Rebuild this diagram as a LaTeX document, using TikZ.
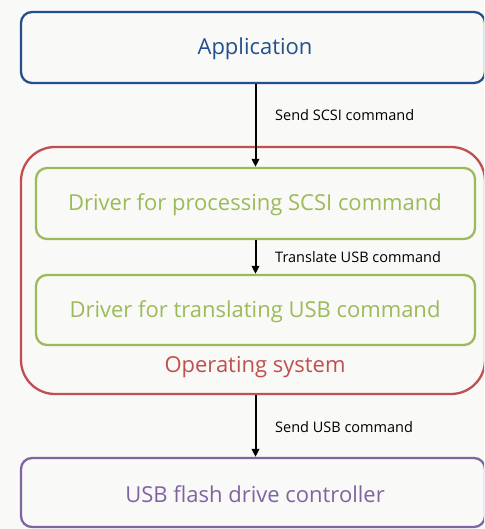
\documentclass[tikz,border=0pt]{standalone}
\usepackage{fontspec}
\setmainfont{Open Sans}
\usetikzlibrary{arrows.meta}
\definecolor{bgc}{HTML}{F9F9F8}
\definecolor{appblue}{HTML}{234F8C}
\definecolor{osred}{HTML}{C0504D}
\definecolor{drvgreen}{HTML}{9BBB59}
\definecolor{usbpurple}{HTML}{8064A2}
\tikzset{
  big/.style={font=\fontsize{22}{26}\selectfont},
  box/.style={draw, line width=2.3pt, rectangle, rounded corners=11pt, inner sep=0pt, big},
  lbl/.style={anchor=west, inner sep=0pt, font=\fontsize{14.5}{17}\selectfont, text=black},
  arr/.style={draw=black, line width=2pt, -{Triangle[length=8pt,width=7.5pt]}},
}
\begin{document}
\begin{tikzpicture}[x=1pt,y=-1pt]
\useasboundingbox (0,0) rectangle (484,529);
\fill[bgc] (0,0) rectangle (484,529);
\begin{scope}
\clip (0,0) rectangle (484,529);
\node[box, draw=appblue, minimum width=464pt, minimum height=71pt] (app) at (253,47.5) {};
\node[box, draw=osred, rounded corners=34pt, minimum width=464pt, minimum height=247pt] (os) at (253,270.5) {};
\node[box, draw=drvgreen, minimum width=439pt, minimum height=71pt] (d1) at (255.5,203.5) {};
\node[box, draw=drvgreen, minimum width=439pt, minimum height=70pt] (d2) at (255.5,310) {};
\node[box, draw=usbpurple, minimum width=464pt, minimum height=69pt] (usb) at (253,492.5) {};
\end{scope}
\node[big, text=appblue, inner sep=0pt] (tapp) at (255,49) {Application};
\node[big, text=drvgreen, inner sep=0pt] (td1) at (255,205) {Driver for processing SCSI command};
\node[big, text=drvgreen, inner sep=0pt] (td2) at (255,311.5) {Driver for translating USB command};
\node[big, text=osred, inner sep=0pt] (ostext) at (255,367.5) {Operating system};
\node[big, text=usbpurple, inner sep=0pt] (tusb) at (255,494.5) {USB flash drive controller};
\draw[arr] (d1.north |- app.south) -- (d1.north);
\draw[arr] (d1.south) -- (d2.north);
\draw[arr] (d2.south |- os.south) -- (d2.south |- usb.north);
\node[lbl] (l1) at (275,115.5) {Send SCSI command};
\node[lbl] (l2) at (275,257.5) {Translate USB command};
\node[lbl] (l3) at (275,427.5) {Send USB command};
\end{tikzpicture}
\end{document}
